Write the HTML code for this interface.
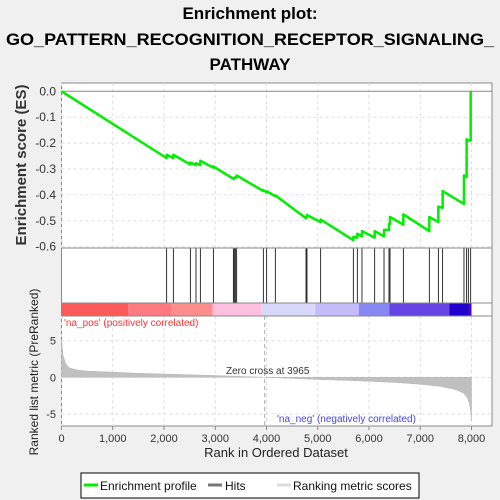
<!DOCTYPE html>
<html><head><meta charset="utf-8"><style>
body{margin:0;background:#f0f0f0;font-family:"Liberation Sans",sans-serif}
svg{display:block}
</style></head><body>
<svg id="chart" width="500" height="500" xmlns="http://www.w3.org/2000/svg">
<rect x="0" y="0" width="500" height="500" fill="#f0f0f0"/>
<g font-weight="bold" font-size="17" text-anchor="middle" fill="#000">
<text x="250" y="19">Enrichment plot:</text>
<text x="250" y="45" textLength="488" lengthAdjust="spacingAndGlyphs">GO_PATTERN_RECOGNITION_RECEPTOR_SIGNALING_</text>
<text x="250" y="70">PATHWAY</text>
</g>
<rect x="61.5" y="83" width="430.5" height="343" fill="#fff" stroke="#888"/>
<g id="grid"></g>
<g id="es"></g>
<g id="hits"></g>
<g id="cbar"></g>
<g id="metric"></g>
<line x1="61.5" y1="248" x2="492" y2="248" stroke="#888"/>
<line x1="61.5" y1="303" x2="492" y2="303" stroke="#888"/>
<line x1="61.5" y1="316" x2="492" y2="316" stroke="#888"/>
<text x="64" y="326" font-size="10" fill="#ff3333">'na_pos' (positively correlated)</text>
<text x="277" y="422" font-size="10" fill="#4444ee">'na_neg' (negatively correlated)</text>
<text x="226" y="374" font-size="10" fill="#333">Zero cross at 3965</text>
<g id="axes" font-size="12" fill="#333"></g>
<text x="26" y="165" font-size="15" font-weight="bold" fill="#333" text-anchor="middle" transform="rotate(-90 26 165)">Enrichment score (ES)</text>
<text x="38" y="372" font-size="12" fill="#222" text-anchor="middle" transform="rotate(-90 38 372)">Ranked list metric (PreRanked)</text>
<text x="276" y="457" font-size="13" fill="#222" text-anchor="middle">Rank in Ordered Dataset</text>
<g>
<rect x="81" y="473" width="338" height="25" fill="#fff" stroke="#000"/>
<line x1="84" y1="485" x2="98" y2="485" stroke="#00ee00" stroke-width="3"/>
<text x="100" y="490" font-size="12" fill="#111">Enrichment profile</text>
<line x1="208" y1="485" x2="222" y2="485" stroke="#777" stroke-width="3"/>
<text x="225" y="490" font-size="12" fill="#111">Hits</text>
<line x1="277" y1="485" x2="291" y2="485" stroke="#ddd" stroke-width="3"/>
<text x="293" y="490" font-size="12" fill="#111">Ranking metric scores</text>
</g>
</svg>
<script>
const xTicks=[0,1000,2000,3000,4000,5000,6000,7000,8000];
const xTickLabels=["0","1,000","2,000","3,000","4,000","5,000","6,000","7,000","8,000"];
const esTicks=[0,-0.1,-0.2,-0.3,-0.4,-0.5,-0.6];
const esTickLabels=["0.0","-0.1","-0.2","-0.3","-0.4","-0.5","-0.6"];
const metricTicks=[5,0,-5];
const metricTickLabels=["5","0","-5"];
const hitRanks=[2052,2182,2514,2624,2709,2963,3353,3372,3392,3418,3938,4003,4172,4771,4790,5057,5694,5772,5863,6111,6293,6390,6410,6670,7177,7353,7437,7853,7905,7938,7984];
const esBefore=[-0.258,-0.258,-0.283,-0.285,-0.285,-0.295,-0.338,-0.336,-0.334,-0.332,-0.385,-0.39,-0.405,-0.49,-0.484,-0.505,-0.575,-0.565,-0.56,-0.565,-0.56,-0.535,-0.512,-0.515,-0.54,-0.505,-0.45,-0.435,-0.33,-0.19,-0.19];
const esAfter=[-0.245,-0.245,-0.275,-0.278,-0.268,-0.29,-0.336,-0.334,-0.332,-0.325,-0.382,-0.386,-0.402,-0.484,-0.478,-0.495,-0.562,-0.55,-0.54,-0.54,-0.535,-0.512,-0.485,-0.475,-0.485,-0.445,-0.385,-0.325,-0.185,-0.19,0.0];
const metricRanks=[0,30,80,150,300,500,1000,1500,2000,2500,3000,3500,3965,4500,5000,5500,6000,6500,7000,7400,7700,7850,7920,7960,7985,8000];
const metricValues=[5.2,3.0,1.9,1.3,1.0,0.85,0.7,0.55,0.45,0.35,0.25,0.12,0,-0.15,-0.3,-0.4,-0.55,-0.7,-0.95,-1.25,-1.7,-2.2,-2.8,-3.6,-4.8,-6.0];
const barStops=[0,1300,2150,2950,3900,4950,5800,6400,7570,7950,8000];
const barColors=["#ff5a5a","#ff7a80","#ff8c8c","#ffc0e0","#d8d8fa","#c4bcf8","#8888f4","#6644e4","#2200cc","#5500aa"];

const NS="http://www.w3.org/2000/svg";
const X=r=>61.5+r*0.05125;
const YE=v=>91.3-v*(155.4/0.6);
const YM=v=>377.3-v*7.32;
function mk(tag,attrs,parent){const e=document.createElementNS(NS,tag);for(const k in attrs)e.setAttribute(k,attrs[k]);parent.appendChild(e);return e;}
const grid=document.getElementById('grid'),axes=document.getElementById('axes');
xTicks.forEach((t,i)=>{
  const g1=mk('line',{x1:X(t),x2:X(t),y1:83,y2:248,stroke:'#ddd','stroke-dasharray':'3,3'},grid);
  
  
  const g2=mk('line',{x1:X(t),x2:X(t),y1:316,y2:426,stroke:'#ddd','stroke-dasharray':'3,3'},grid);
  
  
  const tk=mk('line',{x1:X(t),x2:X(t),y1:426,y2:430,stroke:'#888'},axes);
  
  
  const tx=mk('text',{x:X(t),y:442,'text-anchor':'middle','font-size':'11'},axes);
  tx.textContent=xTickLabels[i];
  
  
});
esTicks.forEach((t,i)=>{
  const gl=mk('line',{x1:61.5,x2:492,y1:YE(t),y2:YE(t),stroke:t===0?'#888':'#ddd','stroke-dasharray':t===0?'':'3,3'},grid);
  
  
  const tx=mk('text',{x:56,y:YE(t)+4,'text-anchor':'end'},axes);
  tx.textContent=esTickLabels[i];
  
  
});
metricTicks.forEach((t,i)=>{
  const gl=mk('line',{x1:61.5,x2:492,y1:YM(t),y2:YM(t),stroke:'#ddd','stroke-dasharray':'3,3'},grid);
  
  
  const tx=mk('text',{x:56,y:YM(t)+4,'text-anchor':'end','font-size':'11'},axes);
  tx.textContent=metricTickLabels[i];
  
  
});
const zc=mk('line',{x1:X(3965),x2:X(3965),y1:316,y2:426,stroke:'#aaa','stroke-dasharray':'4,3'},grid);


let pts=[[X(0),YE(0)]];
hitRanks.forEach((r,i)=>{pts.push([X(r),YE(esBefore[i])]);pts.push([X(r),YE(esAfter[i])]);});
const es=document.getElementById('es');
const pl=mk('polyline',{points:pts.map(p=>p.join(',')).join(' '),fill:'none',stroke:'#00ee00','stroke-width':2.5,'stroke-linejoin':'round'},es);


const cb=document.getElementById('cbar');
barColors.forEach((c,i)=>{
  const r=mk('rect',{x:X(barStops[i]),y:303.5,width:X(barStops[i+1])-X(barStops[i]),height:12.5,fill:c},cb);
  
  
});
const hg=document.getElementById('hits');
hitRanks.forEach(r=>{
  const l=mk('line',{x1:X(r),x2:X(r),y1:248,y2:303,stroke:'#000','stroke-width':0.8},hg);
  
  
  const l2=mk('line',{x1:X(r),x2:X(r),y1:303.5,y2:316,stroke:'#777','stroke-width':0.5,opacity:0.5},hg);
  
  
});
const mg=document.getElementById('metric');
let d='M'+X(0)+','+YM(0);
metricRanks.forEach((r,i)=>{d+=' L'+X(r)+','+YM(metricValues[i]);});
d+=' L'+X(8000)+','+YM(0)+' Z';
const ar=mk('path',{d:d,fill:'#c0c0c0',stroke:'#b8b8b8','stroke-width':0.5},mg);


</script>
</body></html>
